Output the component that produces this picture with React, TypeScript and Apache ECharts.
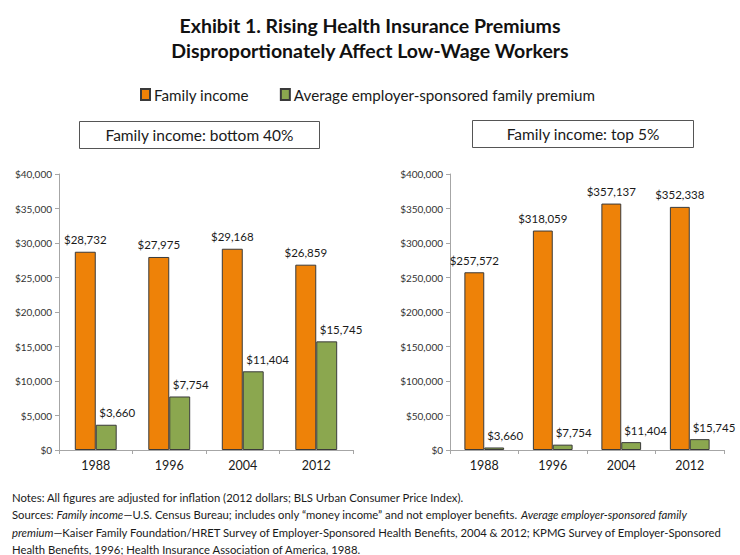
import React, { useEffect, useRef } from "react";
import * as echarts from "echarts";

const years = ["1988", "1996", "2004", "2012"];
const bottomIncome = [28732, 27975, 29168, 26859];
const topIncome = [257572, 318059, 357137, 352338];
const premium = [3660, 7754, 11404, 15745];
const leftTicks = { min: 0, max: 40000, interval: 5000 };
const rightTicks = { min: 0, max: 400000, interval: 50000 };

const titleLines = [
  "Exhibit 1. Rising Health Insurance Premiums",
  "Disproportionately Affect Low-Wage Workers",
];
const seriesNames = ["Family income", "Average employer-sponsored family premium"];
const panelTitles = ["Family income: bottom 40%", "Family income: top 5%"];
const notes = [
  "{n|Notes: All figures are adjusted for inflation (2012 dollars; BLS Urban Consumer Price Index).}",
  "{n|Sources: }{i|Family income}{n|\u2014U.S. Census Bureau; includes only \u201cmoney income\u201d and not employer benefits. }{i|Average employer-sponsored family}",
  "{i|premium}{n|\u2014Kaiser Family Foundation/HRET Survey of Employer-Sponsored Health Benefits, 2004 & 2012; KPMG Survey of Employer-Sponsored}",
  "{n|Health Benefits, 1996; Health Insurance Association of America, 1988.}",
];

const FONT = "Lato";
const ORANGE = "#EE8208";
const GREEN = "#8BA74F";
const NOTE_SIZE = 11.3;
const fmt = (v: number) => "$" + Number(v).toLocaleString("en-US");

export default function App() {
  const ref = useRef<HTMLDivElement>(null);
  useEffect(() => {
    if (!ref.current) return;
    const chart = echarts.init(ref.current, undefined, { renderer: "svg" });
    const axisLine = { show: true, lineStyle: { color: "#a6a6a6", width: 1 } };
    const xAxisBase = (gridIndex: number) => ({
      type: "category" as const,
      gridIndex,
      data: years,
      axisLine,
      axisTick: { show: true, length: 4, lineStyle: { color: "#a6a6a6" } },
      axisLabel: { fontSize: 12.5, color: "#1a1a1a", fontFamily: FONT, margin: 9 },
    });
    const yAxisBase = (gridIndex: number, t: { min: number; max: number; interval: number }) => ({
      type: "value" as const,
      gridIndex,
      min: t.min,
      max: t.max,
      interval: t.interval,
      axisLine,
      axisTick: { show: true, length: 4, lineStyle: { color: "#a6a6a6" } },
      splitLine: { show: false },
      axisLabel: {
        fontSize: 10,
        color: "#333",
        fontFamily: FONT,
        margin: 7,
        formatter: (v: number) => fmt(v),
      },
    });
    const labelStyle = (green: boolean) => ({
      show: true,
      position: "top" as const,
      distance: 6,
      align: green ? ("left" as const) : ("center" as const),
      offset: green ? [-7, 0] : [0, 0],
      fontSize: 11.5,
      color: "#1a1a1a",
      fontFamily: FONT,
      formatter: (p: any) => fmt(p.value),
    });
    const bar = (name: string, data: number[], color: string, idx: number, green: boolean, gap: string) => ({
      type: "bar" as const,
      name,
      data,
      xAxisIndex: idx,
      yAxisIndex: idx,
      barGap: "0%",
      barCategoryGap: gap,
      itemStyle: { color, borderColor: "#3a3a3a", borderWidth: 1 },
      label: labelStyle(green),
    });
    const boxText = (x: number, y: number, w: number, h: number, text: string) => ({
      type: "group" as const,
      children: [
        {
          type: "rect" as const,
          shape: { x, y, width: w, height: h },
          style: { fill: "#fff", stroke: "#555", lineWidth: 1 },
        },
        {
          type: "text" as const,
          x: x + w / 2,
          y: y + h / 2,
          style: {
            text,
            fontSize: 15.5,
            fontFamily: FONT,
            fill: "#1a1a1a",
            align: "center",
            verticalAlign: "middle",
          },
        },
      ],
    });
    const noteRich = {
      n: { fontSize: NOTE_SIZE, fontFamily: FONT, fill: "#1a1a1a", color: "#1a1a1a" },
      i: { fontSize: NOTE_SIZE, fontFamily: FONT, fontStyle: "italic", fill: "#1a1a1a", color: "#1a1a1a" },
    };
    chart.setOption({
      animation: false,
      backgroundColor: "#fff",
      legend: {
        data: seriesNames,
        left: 135,
        top: 82,
        icon: "rect",
        itemWidth: 9,
        itemHeight: 11,
        itemGap: 31,
        textStyle: { fontSize: 15.2, fontFamily: FONT, color: "#1a1a1a", padding: [0, 0, 0, -1] },
      },
      grid: [
        { left: 59, top: 174, width: 294, height: 276 },
        { left: 450, top: 174, width: 274, height: 276 },
      ],
      xAxis: [xAxisBase(0), xAxisBase(1)],
      yAxis: [yAxisBase(0, leftTicks), yAxisBase(1, rightTicks)],
      series: [
        bar(seriesNames[0], bottomIncome, ORANGE, 0, false, "43%"),
        bar(seriesNames[1], premium, GREEN, 0, true, "43%"),
        bar(seriesNames[0], topIncome, ORANGE, 1, false, "42%"),
        bar(seriesNames[1], premium, GREEN, 1, true, "42%"),
      ],
      graphic: [
        ...titleLines.map((t, i) => ({
          type: "text" as const,
          x: 370,
          y: 25 + i * 25,
          style: {
            text: t,
            fontSize: 19.5,
            fontWeight: "bold",
            fontFamily: FONT,
            fill: "#111",
            align: "center",
            verticalAlign: "middle",
          },
        })),
        boxText(79.5, 121.5, 240, 27, panelTitles[0]),
        boxText(472.5, 120.5, 221, 27, panelTitles[1]),
        ...notes.map((t, i) => ({
          type: "text" as const,
          x: 12,
          y: 497 + i * 17.5,
          style: {
            text: t,
            rich: noteRich,
            fontSize: NOTE_SIZE,
            fontFamily: FONT,
            verticalAlign: "middle",
            align: "left",
          },
        })),
      ],
    });
    return () => chart.dispose();
  }, []);
  return (
    <div
      ref={ref}
      style={{ position: "absolute", left: 0, top: 0, width: 740, height: 555 }}
    />
  );
}
